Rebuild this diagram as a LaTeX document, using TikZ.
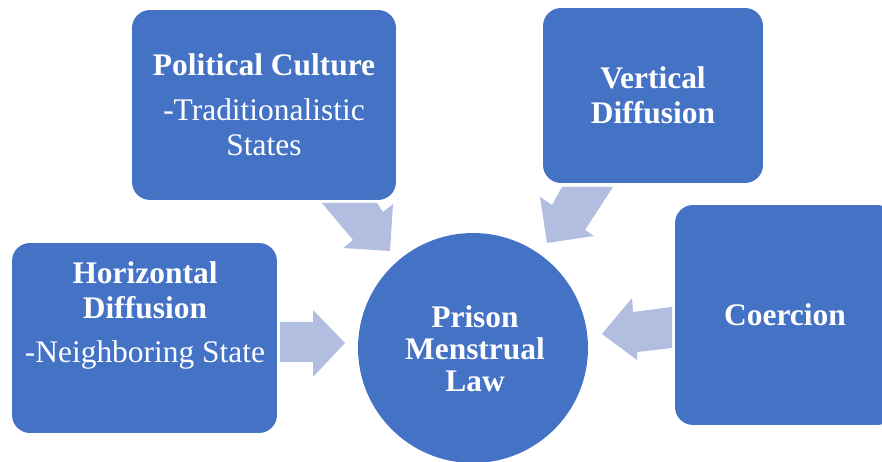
\documentclass[tikz,border=0pt]{standalone}
\usepackage{fontspec}
\setmainfont{Liberation Serif}
\usetikzlibrary{positioning}
\definecolor{cazul}{HTML}{4472C4}
\definecolor{cclaro}{HTML}{B1BEE0}
\tikzset{
  caja/.style={rectangle, rounded corners=0.36cm, fill=cazul, inner sep=0pt},
  nucleo/.style={circle, fill=cazul, inner sep=0pt, minimum size=4.6cm},
  texto/.style={text=white, align=center, font=\fontsize{17.9}{19.9}\selectfont},
  flecha/.style={fill=cclaro},
}

\begin{document}
\begin{tikzpicture}[x=0.02cm, y=-0.02cm]
        \clip (0,0) rectangle (882,462);
        % cajas
        \node[caja, minimum width=5.28cm, minimum height=3.8cm] (pol) at (264,105) {};
        \node[caja, minimum width=4.4cm, minimum height=3.5cm] (ver) at (653,95.5) {};
        \node[caja, minimum width=5.3cm, minimum height=3.8cm] (hor) at (144.5,338) {};
        \node[caja, minimum width=4.4cm, minimum height=4.4cm] (coe) at (785,315) {};
        \node[nucleo] (ley) at (473,348) {};
        % flechas
        \fill[flecha] (322,203) -- (377,203) -- (383,212) -- (393,204) -- (390,251) -- (343,248) -- (353,240) -- cycle;
        \fill[flecha] (562,187) -- (613,187) -- (585,230) -- (594,236) -- (547,243) -- (540,197) -- (552,205) -- cycle;
        \fill[flecha] (280,322) -- (313,322) -- (313,310) -- (345,343) -- (313,377) -- (313,362) -- (280,362) -- cycle;
        \fill[flecha] (672,307) -- (633,312) -- (632,298) -- (602,334) -- (637,360) -- (637,352) -- (672,348) -- cycle;
        % textos
        \node[texto] (tpol) at (264,104.5) {\textbf{Political Culture}\\[0.2cm] -Traditionalistic\\ States};
        \node[texto] (tver) at (653,95.5) {\textbf{Vertical}\\ \textbf{Diffusion}};
        \node[texto] (thor) at (145,315.5) {\textbf{Horizontal}\\ \textbf{Diffusion}\\[0.18cm] -Neighboring State};
        \node[texto] (tcoe) at (785,314.5) {\textbf{Coercion}};
        \node[texto, font=\fontsize{17.9}{18.2}\selectfont] (tley) at (475,349) {\textbf{Prison}\\ \textbf{Menstrual}\\ \textbf{Law}};
    \end{tikzpicture}
\end{document}
